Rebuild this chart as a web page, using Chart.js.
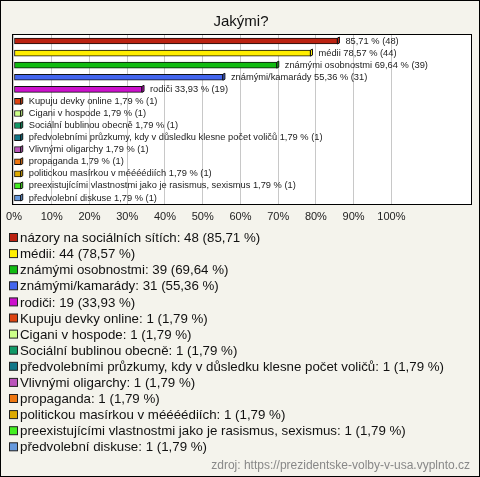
<!DOCTYPE html>
<html>
<head>
<meta charset="utf-8">
<script src="https://cdn.jsdelivr.net/npm/chart.js@4"></script>
<style>
  html, body { margin: 0; padding: 0; background: #f4f3ec; }
  #wrap { width: 480px; height: 477px; }
</style>
</head>
<body>
<div id="wrap"><canvas id="c" width="480" height="477"></canvas></div>
<script>
// data
const names = [
  'názory na sociálních sítích', 'médii', 'známými osobnostmi', 'známými/kamarády', 'rodiči',
  'Kupuju devky online', 'Cigani v hospode', 'Sociální bublinou obecně',
  'předvolebními průzkumy, kdy v důsledku klesne počet voličů', 'Vlivnými oligarchy',
  'propaganda', 'politickou masírkou v méééédiích',
  'preexistujícími vlastnostmi jako je rasismus, sexismus', 'předvolební diskuse'
];
const counts = [48, 44, 39, 31, 19, 1, 1, 1, 1, 1, 1, 1, 1, 1];
const percents = [85.71, 78.57, 69.64, 55.36, 33.93, 1.79, 1.79, 1.79, 1.79, 1.79, 1.79, 1.79, 1.79, 1.79];
const colors = [
  '#bb2211', '#ffee00', '#11bb11', '#4466ee', '#cc11cc', '#dd4411', '#ccff88',
  '#119966', '#117788', '#bb55bb', '#ee7711', '#ddaa00', '#44ee22', '#6699dd'
];
const xTicks = [0, 10, 20, 30, 40, 50, 60, 70, 80, 90, 100];

const FONT = '"Liberation Sans", Arial, sans-serif';
const fmt = v => v.toFixed(2).replace('.', ',');

const framePlugin = {
  id: 'frame',
  beforeDraw(chart) {
    const { ctx, chartArea: a } = chart;
    ctx.save();
    ctx.fillStyle = '#f4f3ec';
    ctx.fillRect(0, 0, chart.width, chart.height);
    ctx.strokeStyle = '#000';
    ctx.lineWidth = 1;
    ctx.strokeRect(0.5, 0.5, chart.width - 1, chart.height - 1);
    ctx.fillStyle = '#fff';
    ctx.fillRect(a.left, a.top, a.right - a.left, a.bottom - a.top);
    ctx.restore();
  },
  afterDatasetsDraw(chart) {
    const { ctx, chartArea: a } = chart;
    const meta = chart.getDatasetMeta(0);
    ctx.save();
    // little 3d end cap on each bar
    meta.data.forEach((bar, i) => {
      const h = bar.height / 2;
      ctx.beginPath();
      ctx.moveTo(bar.x, bar.y - h);
      ctx.lineTo(bar.x + 2, bar.y - h - 1);
      ctx.lineTo(bar.x + 2, bar.y + h - 1);
      ctx.lineTo(bar.x, bar.y + h);
      ctx.closePath();
      ctx.fillStyle = colors[i];
      ctx.fill();
      ctx.strokeStyle = '#111';
      ctx.lineWidth = 1;
      ctx.stroke();
    });
    ctx.font = '9.3px ' + FONT;
    ctx.fillStyle = '#222';
    ctx.textBaseline = 'middle';
    meta.data.forEach((bar, i) => {
      const x = bar.x + 8;
      let txt = `${names[i]} ${fmt(percents[i])} % (${counts[i]})`;
      if (x + ctx.measureText(txt).width > a.right - 2) txt = `${fmt(percents[i])} % (${counts[i]})`;
      ctx.fillText(txt, x, bar.y);
    });
    ctx.restore();
  },
  afterDraw(chart) {
    const { ctx, chartArea: a } = chart;
    ctx.save();
    ctx.strokeStyle = '#000';
    ctx.lineWidth = 1;
    ctx.strokeRect(a.left - 0.5, a.top - 0.5, a.right - a.left + 1, a.bottom - a.top + 1);

    // legend
    ctx.font = '13.3px ' + FONT;
    ctx.textBaseline = 'middle';
    names.forEach((n, i) => {
      const y = 238 + i * 16.1;
      ctx.fillStyle = colors[i];
      ctx.fillRect(9.5, y - 4.5, 8, 8);
      ctx.strokeStyle = '#222';
      ctx.strokeRect(9.5, y - 4.5, 8, 8);
      ctx.fillStyle = '#111';
      ctx.fillText(`${n}: ${counts[i]} (${fmt(percents[i])} %)`, 20, y + 0.5);
    });

    ctx.font = '12px ' + FONT;
    ctx.fillStyle = '#888';
    ctx.textAlign = 'right';
    ctx.fillText('zdroj: https://prezidentske-volby-v-usa.vyplnto.cz', 470, 466);
    ctx.restore();
  }
};

new Chart(document.getElementById('c'), {
  type: 'bar',
  data: {
    labels: names,
    datasets: [{
      data: percents,
      backgroundColor: colors,
      borderColor: '#111',
      borderWidth: 1,
      borderSkipped: false,
      barThickness: 6
    }]
  },
  options: {
    indexAxis: 'y',
    responsive: false,
    animation: false,
    layout: { padding: { left: 11, right: 9, top: 0, bottom: 253 } },
    plugins: {
      legend: { display: false },
      tooltip: { enabled: false },
      title: {
        display: true,
        text: 'Jakými?',
        color: '#111',
        font: { size: 15, family: FONT, weight: 'normal' },
        padding: { top: 13, bottom: 4 }
      }
    },
    scales: {
      x: {
        min: -0.26,
        max: 121.1,
        afterBuildTicks: s => { s.ticks = xTicks.map(v => ({ value: v })); },
        afterFit: s => { s.height = 20; },
        border: { display: false },
        grid: { color: '#c8c8c8', drawTicks: false },
        ticks: {
          color: '#222',
          padding: 6,
          font: { size: 11, family: FONT },
          callback: v => v + '%'
        }
      },
      y: {
        display: false
      }
    }
  },
  plugins: [framePlugin]
});
</script>
</body>
</html>
